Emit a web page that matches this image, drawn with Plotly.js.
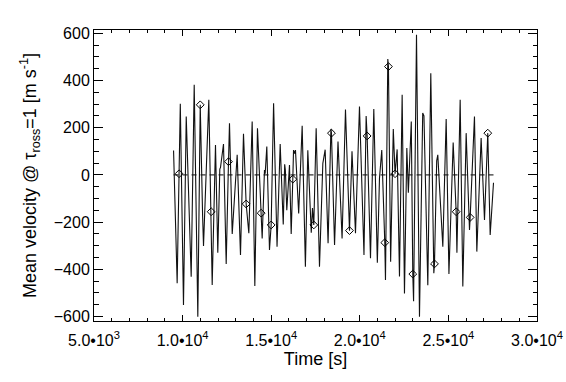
<!DOCTYPE html>
<html>
<head>
<meta charset="utf-8">
<script src="https://cdn.plot.ly/plotly-3.0.1.min.js"></script>
<style>html,body{margin:0;padding:0;background:#fff;}#chart{width:566px;height:382px;}</style>
</head>
<body>
<div id="chart"></div>
<script>
// Time series of mean velocity at tau_ross = 1
var timeS = [9490, 9693, 9800, 9870, 10050, 10205, 10485, 10655, 10859, 10995, 11130, 11180, 11479, 11613, 11670, 11856, 11986, 12100, 12140, 12308, 12460, 12590, 12646, 12800, 12888, 13080, 13267, 13436, 13587, 13738, 13926, 14076, 14226, 14435, 14491, 14621, 14660, 14752, 14903, 14998, 15135, 15330, 15507, 15680, 15760, 15800, 15880, 16032, 16128, 16219, 16260, 16320, 16370, 16550, 16748, 16930, 17066, 17260, 17330, 17404, 17537, 17725, 17870, 17914, 18045, 18210, 18370, 18400, 18575, 18770, 19000, 19192, 19418, 19560, 19757, 19982, 20236, 20358, 20414, 20603, 20790, 20990, 21110, 21240, 21410, 21449, 21580, 21617, 21740, 21890, 21990, 22108, 22239, 22390, 22521, 22654, 22740, 22905, 22990, 23035, 23200, 23368, 23550, 23620, 23838, 24006, 24177, 24215, 24340, 24401, 24685, 24874, 25030, 25269, 25438, 25480, 25664, 25814, 26002, 26190, 26228, 26471, 26604, 26847, 27037, 27222, 27357, 27545];
var velocity = [103, -459, 5, 301, -551, 247, -431, 382, -601, 297, -175, -301, 318, -156, -466, 127, -330, 25, 32, 131, -377, 56, 219, -250, -141, 85, -339, 174, -123, -247, 226, -471, 198, -162, -269, 21, 5, 120, -318, -212, 304, -304, 131, -210, 45, 20, -150, 42, -250, -18, 105, 90, 105, -163, 208, -389, 104, -245, -140, -212, 198, -389, 40, 49, 107, -290, 195, 177, -297, 142, -269, 277, -236, 100, -247, 290, -339, 250, 165, -353, 279, -372, -15, 105, -287, -445, 491, 459, -368, 194, 5, 108, -430, 340, -502, 114, -75, 226, -420, -535, 594, -601, 262, 250, -467, 431, -417, -377, 60, 85, -304, 237, -420, 137, -156, -330, 318, -473, 177, -233, -180, 247, -325, 156, -191, 177, -255, -33];

// Diamond-marked samples
var diamondTime = [9800, 10995, 11613, 12590, 13587, 14435, 14998, 16219, 17404, 18400, 19418, 20414, 21410, 21617, 21990, 22990, 24215, 25438, 26228, 27222];
var diamondVel = [5, 297, -156, 56, -123, -162, -212, -18, -212, 177, -236, 165, -287, 459, 5, -420, -377, -156, -180, 177];

// Axis ticks
var xTickVals = [5000, 10000, 15000, 20000, 25000, 30000];
var xTickText = ['5.0•10<sup>3</sup>', '1.0•10<sup>4</sup>', '1.5•10<sup>4</sup>', '2.0•10<sup>4</sup>', '2.5•10<sup>4</sup>', '3.0•10<sup>4</sup>'];

var FONT = 'Liberation Sans, Arial, Helvetica, sans-serif';

var traces = [
  {x: [timeS[0], timeS[timeS.length - 1]], y: [0, 0], mode: 'lines', type: 'scatter',
   line: {color: '#000', width: 1, dash: '5px,4px'}, hoverinfo: 'skip'},
  {x: timeS, y: velocity, mode: 'lines', type: 'scatter',
   line: {color: '#111', width: 1.1}},
  {x: diamondTime, y: diamondVel, mode: 'markers', type: 'scatter',
   marker: {symbol: 'diamond-open', size: 6, color: '#000', line: {color: '#000', width: 1}}}
];

var layout = {
  width: 566, height: 382,
  margin: {l: 94, r: 29, t: 30, b: 61, pad: 0},
  paper_bgcolor: '#fff', plot_bgcolor: '#fff',
  showlegend: false,
  font: {family: FONT, color: '#000', size: 16},
  xaxis: {
    range: [5000, 30000], tickmode: 'array', tickvals: xTickVals, ticktext: xTickText,
    ticks: 'inside', ticklen: 6, tickwidth: 1, tickcolor: '#000',
    showline: true, linecolor: '#000', linewidth: 1, mirror: 'ticks',
    showgrid: false, zeroline: false, ticklabelstandoff: 5,
    minor: {tickmode: 'linear', tick0: 5000, dtick: 1000, ticks: 'inside', ticklen: 3, tickcolor: '#000', tickwidth: 1, showgrid: false},
    tickfont: {family: FONT, size: 16, color: '#000'},
    title: {text: 'Time [s]', font: {family: FONT, size: 18, color: '#000'}, standoff: 2}
  },
  yaxis: {
    range: [-619, 614], tickmode: 'linear', tick0: 0, dtick: 200,
    ticks: 'inside', ticklen: 9, tickwidth: 1, tickcolor: '#000',
    showline: true, linecolor: '#000', linewidth: 1, mirror: 'ticks',
    showgrid: false, zeroline: false,
    minor: {tickmode: 'linear', tick0: 0, dtick: 50, ticks: 'inside', ticklen: 4.5, tickcolor: '#000', tickwidth: 1, showgrid: false},
    tickfont: {family: FONT, size: 16, color: '#000'},
    title: {text: 'Mean velocity @ τ<sub>ross</sub>=1 [m s<sup>-1</sup>]', font: {family: FONT, size: 18, color: '#000'}, standoff: 12}
  }
};

Plotly.newPlot('chart', traces, layout, {staticPlot: true, displayModeBar: false});
</script>
</body>
</html>
